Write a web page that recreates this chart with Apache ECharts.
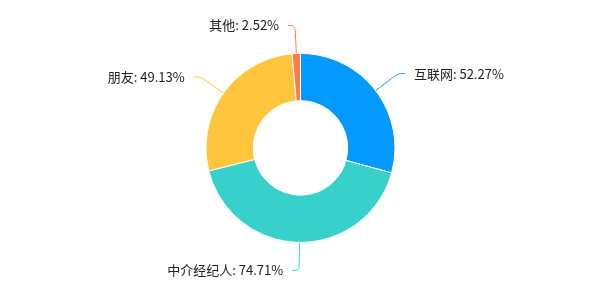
<!DOCTYPE html>
<html>
<head>
<meta charset="utf-8">
<script src="https://cdn.jsdelivr.net/npm/echarts@6/dist/echarts.min.js"></script>
<style>
  html, body { margin: 0; padding: 0; background: #fff; }
  #chart { width: 601px; height: 300px; }
</style>
</head>
<body>
<div id="chart"></div>
<script>
const names = ['互联网', '中介经纪人', '朋友', '其他']
const values = [52.27, 74.71, 49.13, 2.52]
const colors = ['#0399FE', '#38D0CA', '#FFC53D', '#FF7A45']

const chart = echarts.init(document.getElementById('chart'))
chart.setOption({
  animation: false,
  color: colors,
  series: [{
    type: 'pie',
    center: ['50%', '49.3%'],
    radius: ['31.5%', '63%'],
    startAngle: 90,
    itemStyle: { borderColor: '#fff', borderWidth: 1 },
    label: {
      formatter: '{b}: {c}%',
      color: '#222',
      fontSize: 13,
      fontFamily: 'Noto Sans CJK SC',
      distanceToLabelLine: 9
    },
    labelLine: { smooth: true, length: 28, length2: 7 },
    data: names.map((n, i) => ({ name: n, value: values[i] }))
  }]
})
</script>
</body>
</html>
